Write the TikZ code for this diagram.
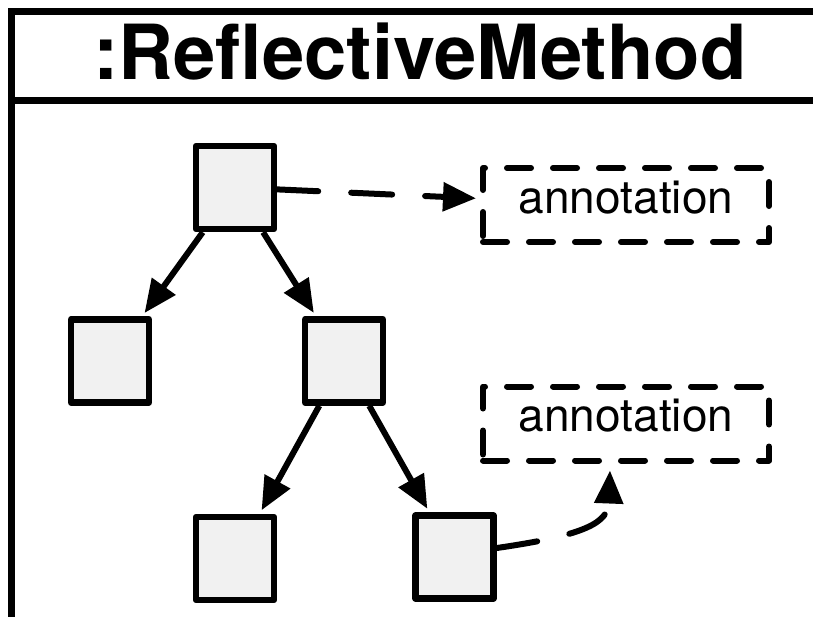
\documentclass[tikz,border=0pt]{standalone}
\usepackage{fontspec}
\setmainfont{TeX Gyre Heros}
\usetikzlibrary{arrows.meta}
\definecolor{boxfill}{RGB}{241,241,241}
\begin{document}
\begin{tikzpicture}[x=1pt,y=-1pt,
  objbox/.style={draw,line width=6.5pt,fill=boxfill,minimum width=78pt,
    minimum height=83pt,inner sep=0pt,line join=round},
  notebox/.style={draw,line width=6pt,dash pattern=on 24pt off 22pt,
    line cap=round,line join=round,minimum width=286pt,minimum height=74pt,
    inner sep=0pt,font=\fontsize{46}{46}\selectfont,
    text height=32pt,text depth=16pt},
  tree/.style={line width=6pt,-{Triangle[length=33pt,width=28pt]},
    shorten >=4pt},
  noteref/.style={tree,dash pattern=on 41pt off 33pt,line cap=round}]
\useasboundingbox (0,0) rectangle (813,616);
% outer frame and header separator (frame continues past the page edge)
\begin{scope}
  \clip (0,0) rectangle (813,616);
  \draw[line width=7pt] (11,11) rectangle (840,650);
  \draw[line width=7pt] (11,100.5) -- (840,100.5);
\end{scope}
\node[anchor=base,font=\bfseries\fontsize{76}{76}\selectfont] (title)
  at (420,79) {:ReflectiveMethod};

% tree of objects
\node[objbox] (root) at (235,187.5) {};
\node[objbox] (lm)   at (110,361) {};
\node[objbox] (rm)   at (344,361) {};
\node[objbox] (bl)   at (235,558.5) {};
\node[objbox] (br)   at (454.5,557) {};

% annotations
\node[notebox] (an1) at (626,205) {annotation};
\node[notebox] (an2) at (626,423.5) {annotation};

\draw[tree] (root) -- (lm);
\draw[tree] (root) -- (rm);
\draw[tree] (rm) -- (bl);
\draw[tree] (rm) -- (br);

\draw[noteref] (root) -- (an1);
\draw[noteref,shorten >=0pt] ([yshift=9pt]br.east)
  .. controls +(90,-13) and +(-2,52) .. ([xshift=-16pt,yshift=-7pt]an2.south);
\end{tikzpicture}
\end{document}
